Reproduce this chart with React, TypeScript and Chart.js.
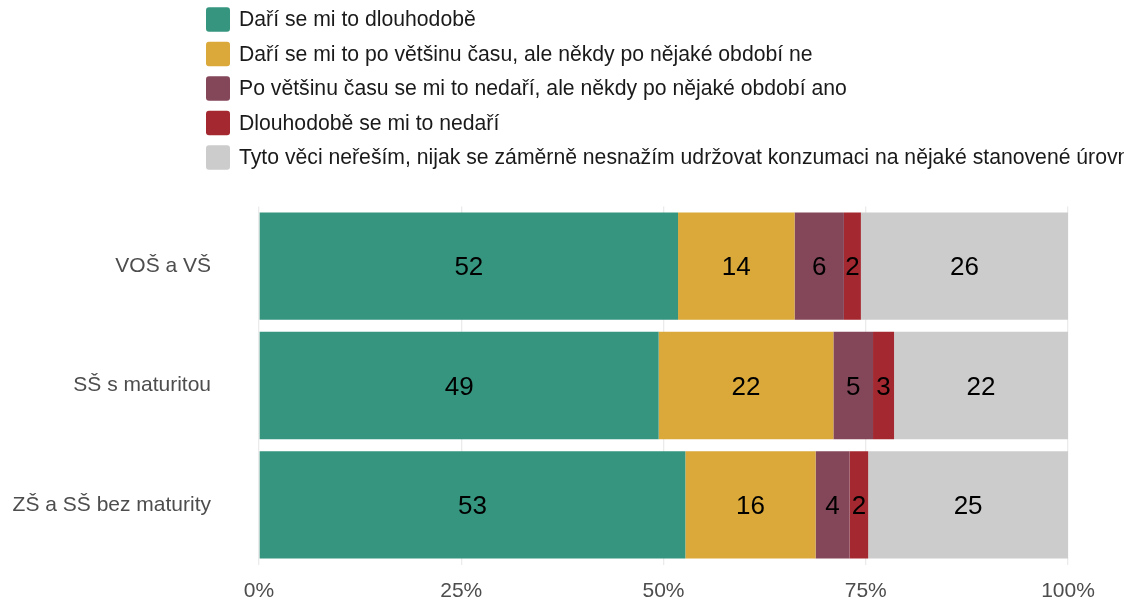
import React, { useEffect, useRef } from "react";
import { Chart, registerables } from "chart.js";

Chart.register(...registerables);

const categories = ["VOŠ a VŠ", "SŠ s maturitou", "ZŠ a SŠ bez maturity"];

const seriesLabels = [
  "Daří se mi to dlouhodobě",
  "Daří se mi to po většinu času, ale někdy po nějaké období ne",
  "Po většinu času se mi to nedaří, ale někdy po nějaké období ano",
  "Dlouhodobě se mi to nedaří",
  "Tyto věci neřeším, nijak se záměrně nesnažím udržovat konzumaci na nějaké stanovené úrovni",
];

const dariDlouhodobe = [51.8, 49.4, 52.7];
const dariVetsinu = [14.4, 21.6, 16.1];
const nedariVetsinu = [6.1, 4.9, 4.2];
const nedariDlouhodobe = [2.1, 2.6, 2.3];
const neresim = [25.6, 21.5, 24.7];

const seriesColors = ["#36957F", "#DAA939", "#844659", "#A4282F", "#CCCCCC"];

const xTicks = [0, 25, 50, 75, 100];

const FONT = "'Liberation Sans', Arial, sans-serif";

const legendPlugin = {
  id: "customLegend",
  afterDraw(chart: any) {
    const ctx = chart.ctx;
    ctx.save();
    chart.data.datasets.forEach((ds: any, i: number) => {
      const top = 7.3 + i * 34.5;
      ctx.fillStyle = ds.backgroundColor;
      ctx.beginPath();
      if (ctx.roundRect) ctx.roundRect(206, top, 24, 24.4, 3);
      else ctx.rect(206, top, 24, 24.4);
      ctx.fill();
      ctx.fillStyle = "#1a1a1a";
      ctx.font = `21.2px ${FONT}`;
      ctx.textAlign = "left";
      ctx.textBaseline = "middle";
      ctx.fillText(ds.label, 239, top + 13);
    });
    ctx.restore();
  },
};

const barLabelPlugin = {
  id: "barLabels",
  afterDatasetsDraw(chart: any) {
    const ctx = chart.ctx;
    ctx.save();
    ctx.font = `26px ${FONT}`;
    ctx.fillStyle = "#000000";
    ctx.textAlign = "center";
    ctx.textBaseline = "middle";
    chart.data.datasets.forEach((ds: any, di: number) => {
      const meta = chart.getDatasetMeta(di);
      meta.data.forEach((bar: any, i: number) => {
        const v = ds.data[i];
        const cx = (bar.x + bar.base) / 2;
        ctx.fillText(String(Math.round(v)), cx, bar.y + 2);
      });
    });
    ctx.restore();
  },
};

export default function App() {
  const ref = useRef<HTMLCanvasElement | null>(null);

  useEffect(() => {
    if (!ref.current) return;
    const allSeries = [dariDlouhodobe, dariVetsinu, nedariVetsinu, nedariDlouhodobe, neresim];
    const chart = new Chart(ref.current, {
      type: "bar",
      data: {
        labels: categories,
        datasets: allSeries.map((d, i) => ({
          label: seriesLabels[i],
          data: d,
          backgroundColor: seriesColors[i],
          borderWidth: 0,
          barPercentage: 0.9,
          categoryPercentage: 1,
        })),
      },
      options: {
        indexAxis: "y",
        animation: false,
        responsive: true,
        maintainAspectRatio: false,
        layout: { padding: { top: 206.5, right: 56, left: 0, bottom: 0 } },
        plugins: {
          legend: { display: false },
          tooltip: { enabled: false },
        },
        scales: {
          x: {
            stacked: true,
            min: 0,
            max: 100,
            afterBuildTicks: (scale: any) => {
              scale.ticks = xTicks.map((v) => ({ value: v }));
            },
            afterFit: (scale: any) => {
              scale.height = 38.5;
            },
            ticks: {
              callback: (v: any) => `${v}%`,
              color: "#4D4D4D",
              font: { family: FONT, size: 21 },
              padding: 14,
              maxRotation: 0,
            },
            grid: { color: "#EBEBEB", lineWidth: 1.3, drawTicks: false },
            border: { display: false },
          },
          y: {
            stacked: true,
            afterFit: (scale: any) => {
              scale.width = 259;
              scale.paddingTop = 0;
              scale.paddingBottom = 0;
            },
            ticks: {
              color: "#4D4D4D",
              font: { family: FONT, size: 21 },
              padding: 48,
            },
            grid: { display: false, drawTicks: false },
            border: { display: false },
          },
        },
      },
      plugins: [barLabelPlugin, legendPlugin],
    });
    return () => chart.destroy();
  }, []);

  return (
    <div style={{ position: "fixed", left: 0, top: 0, width: 1124, height: 603, background: "#ffffff" }}>
      <canvas ref={ref} />
    </div>
  );
}
